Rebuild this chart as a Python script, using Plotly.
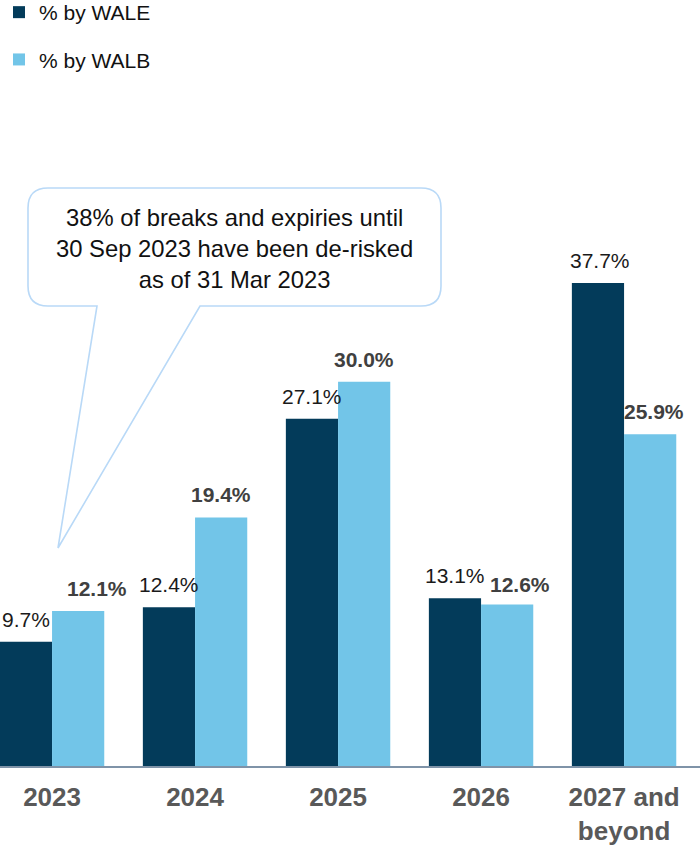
import plotly.graph_objects as go

# ---- data ----
categories = ["2023", "2024", "2025", "2026", "2027 and beyond"]
tick_labels = ["2023", "2024", "2025", "2026", "2027 and<br>beyond"]
wale_pct = [9.7, 12.4, 27.1, 13.1, 37.7]
walb_pct = [12.1, 19.4, 30.0, 12.6, 25.9]
series_names = ["% by WALE", "% by WALB"]
callout_text = "38% of breaks and expiries until<br>30 Sep 2023 have been de-risked<br>as of 31 Mar 2023"

DARK = "#033B5A"
LIGHT = "#72C5E8"
FONT = "Liberation Sans, Arial, sans-serif"

W, H = 700, 846
M_L, M_R, M_T, M_B = 0, 0, 190, 80
PW, PH = W - M_L - M_R, H - M_T - M_B

fig = go.Figure()
fig.add_trace(go.Bar(x=categories, y=wale_pct, name=series_names[0],
                     marker=dict(color=DARK, line=dict(width=0)),
                     legendgroup="a", hoverinfo="skip"))
fig.add_trace(go.Bar(x=categories, y=walb_pct, name=series_names[1],
                     marker=dict(color=LIGHT, line=dict(width=0)),
                     legendgroup="b", hoverinfo="skip"))

# value labels (x given as category index so numeric-looking names are not misread)
label_nudge = {(1, 0): (19, 0), (1, 3): (13, -2), (1, 4): (4, 0), (0, 4): (2, 0)}
for si, (vals, side) in enumerate([(wale_pct, -1), (walb_pct, 1)]):
    for ci, v in enumerate(vals):
        dx, dy = label_nudge.get((si, ci), (0, 0))
        fig.add_annotation(
            x=ci, y=v, xref="x", yref="y", text=f"{v:.1f}%",
            showarrow=False, yanchor="bottom", xanchor="center",
            xshift=side * 26 + dx, yshift=9 + dy,
            font=dict(family=FONT, size=21,
                      color="#1a1a1a" if si == 0 else "#404040",
                      weight="normal" if si == 0 else "bold"),
        )

# callout bubble (pixel geometry -> paper coords)
def px(x):
    return (x - M_L) / PW

def py(y):
    return (M_T + PH - y) / PH

L_, R_, T_, B_, r = 28, 441, 188, 306, 20
pts = [
    ("M", L_ + r, T_), ("L", R_ - r, T_), ("Q", R_, T_, R_, T_ + r),
    ("L", R_, B_ - r), ("Q", R_, B_, R_ - r, B_), ("L", 200, B_),
    ("L", 58, 548), ("L", 97, B_), ("L", L_ + r, B_),
    ("Q", L_, B_, L_, B_ - r), ("L", L_, T_ + r), ("Q", L_, T_, L_ + r, T_),
]
path = ""
for p in pts:
    cmd, coords = p[0], p[1:]
    pairs = [f"{px(coords[i]):.5f},{py(coords[i+1]):.5f}" for i in range(0, len(coords), 2)]
    path += cmd + " ".join(pairs) + " "
path += "Z"
fig.add_shape(type="path", path=path, xref="paper", yref="paper",
              line=dict(color="#B9D9F7", width=1.6), fillcolor="white", layer="above")
fig.add_annotation(x=px(235), y=py(248), xref="paper", yref="paper",
                   text=callout_text, showarrow=False, align="center",
                   xanchor="center", yanchor="middle",
                   font=dict(family=FONT, size=23.8, color="#111111"))

fig.update_layout(
    width=W, height=H,
    margin=dict(l=M_L, r=M_R, t=M_T, b=M_B, pad=0, autoexpand=False),
    paper_bgcolor="white", plot_bgcolor="white",
    barmode="group", bargap=0.27, bargroupgap=0,
    font=dict(family=FONT),
    showlegend=True,
    legend=dict(x=px(-1), y=py(-8), xref="paper", yref="paper",
                xanchor="left", yanchor="top",
                font=dict(family=FONT, size=21, color="#111111"),
                traceorder="grouped", tracegroupgap=17, itemwidth=30,
                bgcolor="rgba(0,0,0,0)", borderwidth=0),
    xaxis=dict(type="category", categoryorder="array", categoryarray=categories,
               tickvals=categories, ticktext=tick_labels,
               range=[-0.364, 4.531], showgrid=False, zeroline=False,
               showline=True, linecolor="#7F93A8", linewidth=2,
               ticks="", ticklabelstandoff=7, automargin=False,
               tickfont=dict(family=FONT, size=26, color="#595959", weight="bold")),
    yaxis=dict(range=[0, PH / 12.81], visible=False, showgrid=False, zeroline=False),
)

fig.write_html("out.html", config={"displayModeBar": False},
               post_script="document.body.style.margin='0px';")
